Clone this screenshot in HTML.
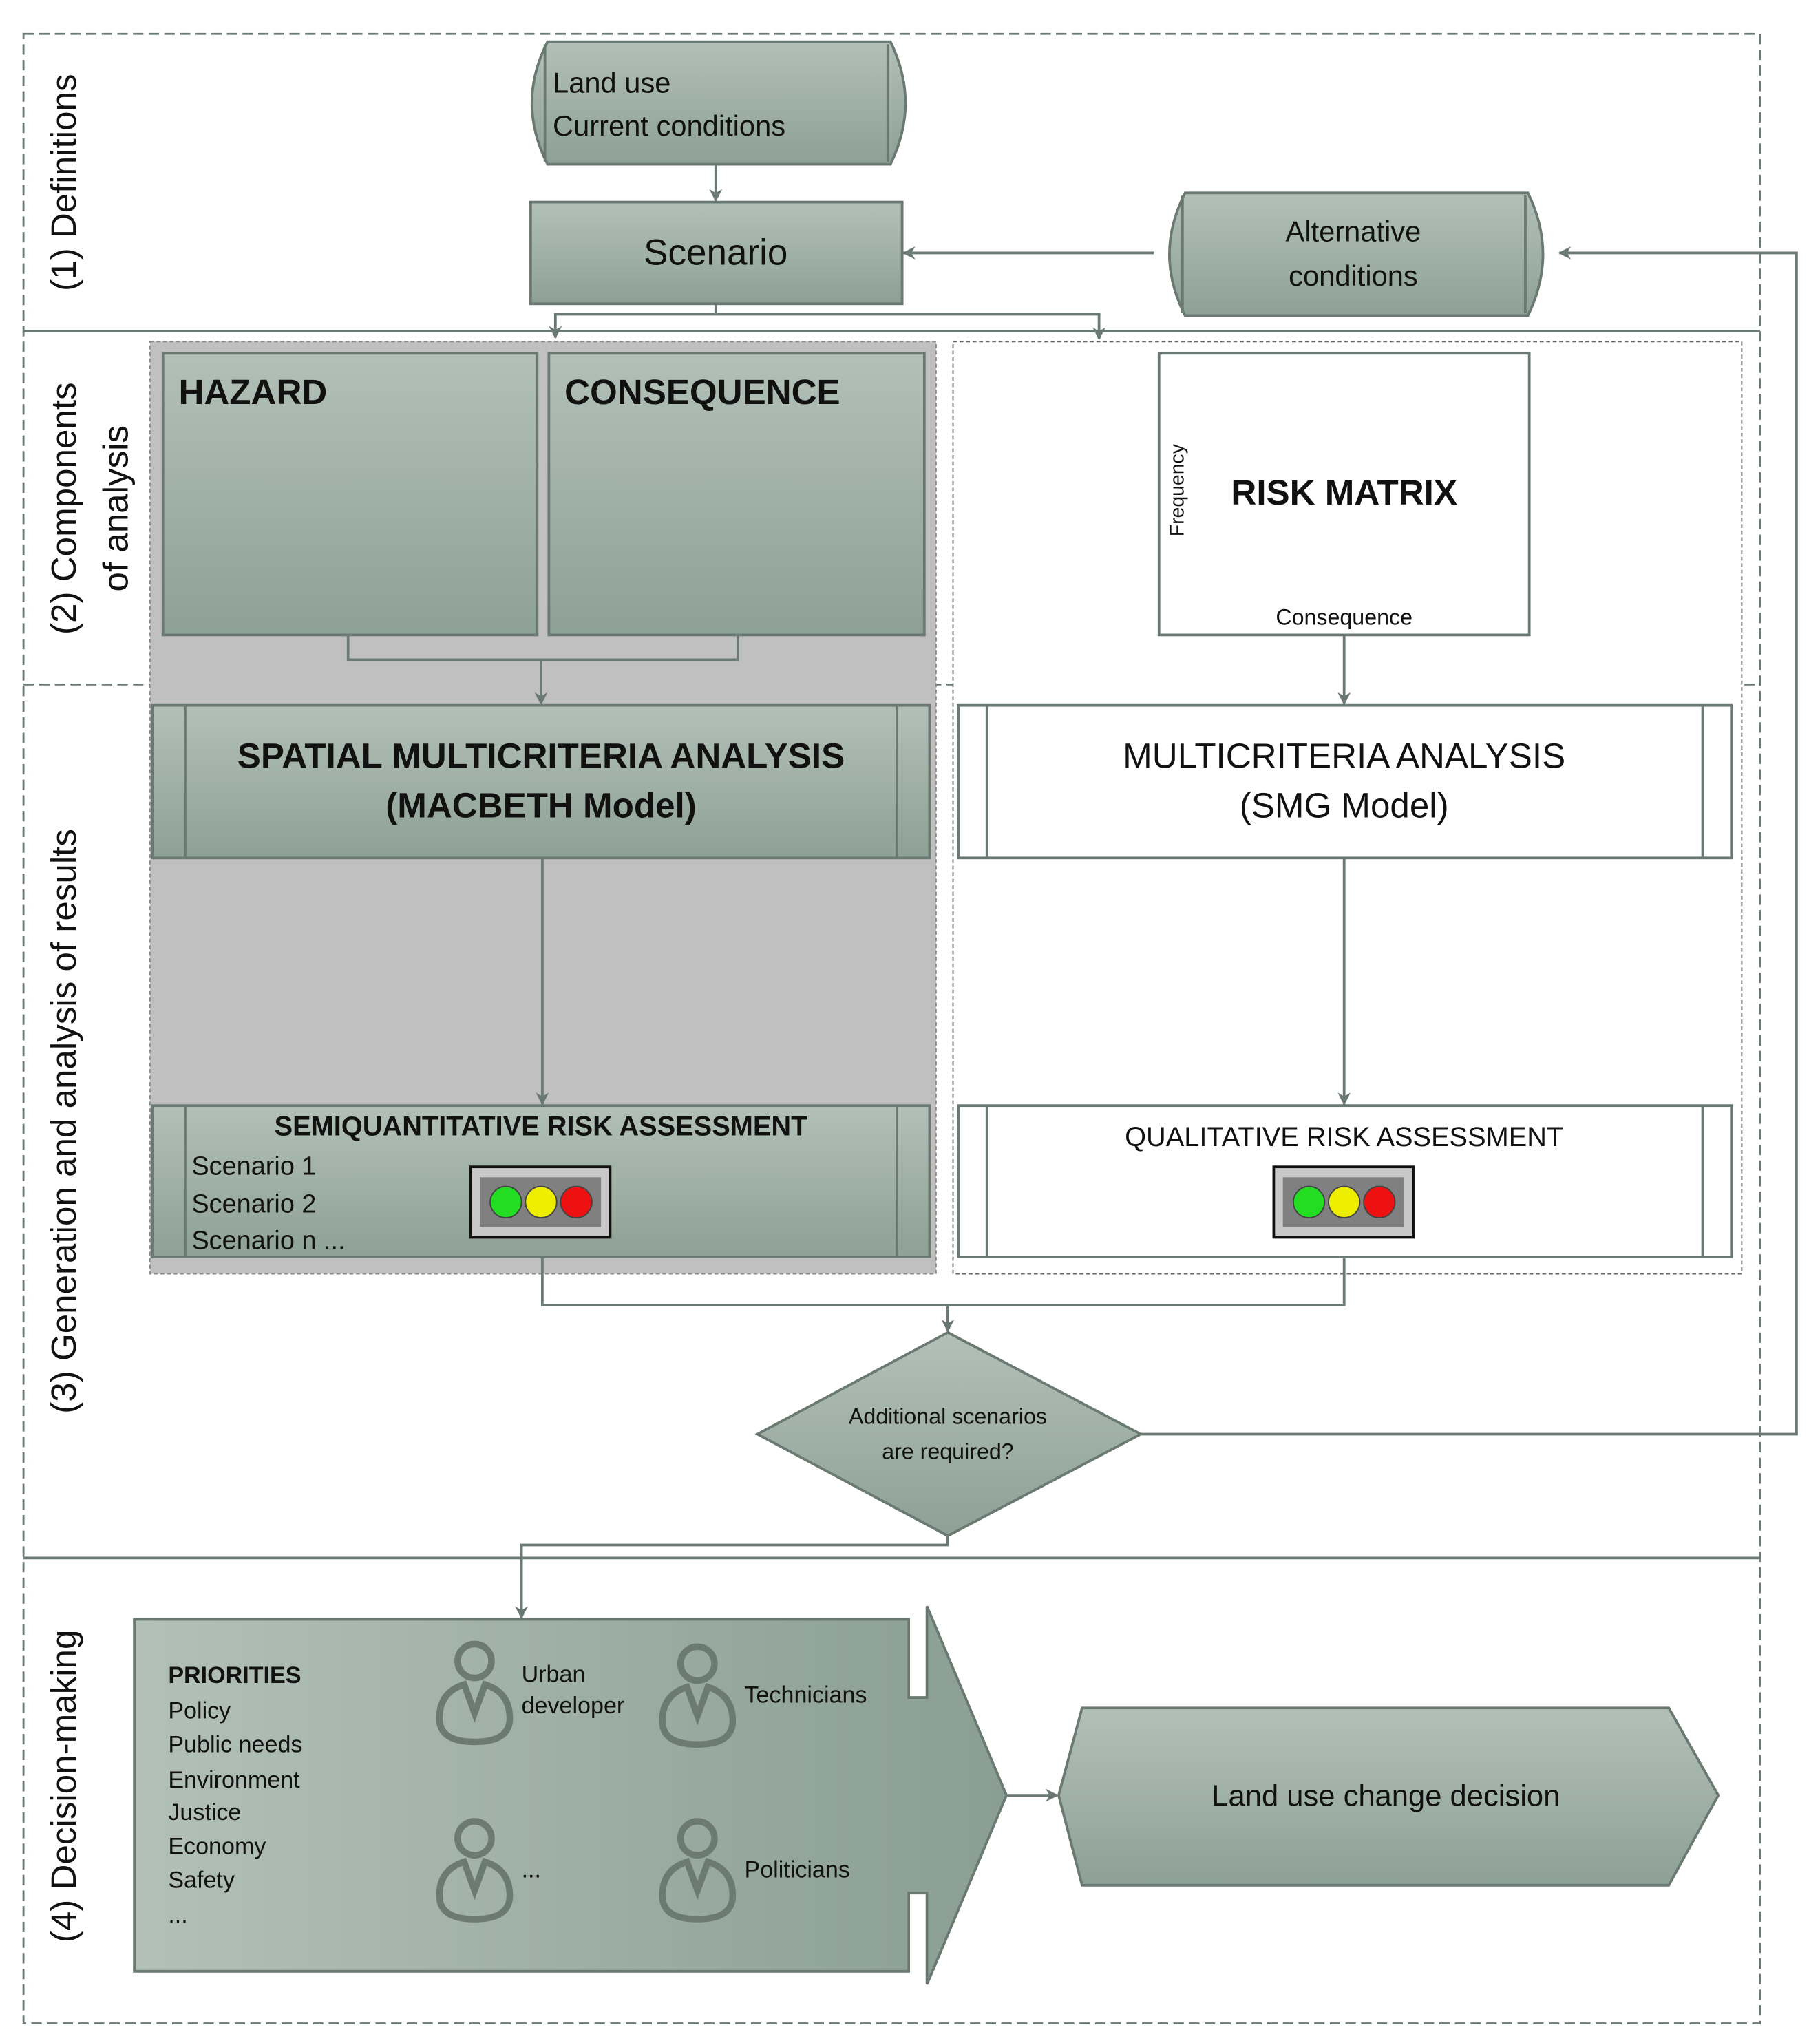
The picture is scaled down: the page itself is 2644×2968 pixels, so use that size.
<!DOCTYPE html>
<html><head><meta charset="utf-8"><style>html,body{margin:0;padding:0;background:#fff}svg{display:block}</style></head><body>
<svg width="2644" height="2968" viewBox="0 0 1396 1567" preserveAspectRatio="none" xmlns="http://www.w3.org/2000/svg" font-family="'Liberation Sans Narrow','Liberation Sans',sans-serif">
<defs>
<linearGradient id="g" x1="0" y1="0" x2="0" y2="1"><stop offset="0" stop-color="#b2c0b8"/><stop offset="1" stop-color="#8ea196"/></linearGradient>
<linearGradient id="gh" x1="0" y1="0" x2="1" y2="0"><stop offset="0" stop-color="#b2c0b8"/><stop offset="1" stop-color="#8a9e93"/></linearGradient>
<marker id="a" markerWidth="10" markerHeight="10" refX="9" refY="5" orient="auto" markerUnits="userSpaceOnUse"><path d="M0,0 L10,5 L0,10 L3,5 z" fill="#6a7a72"/></marker>
<g id="tl"><rect x="0" y="0" width="107" height="54" fill="#c8c8c8" stroke="#111" stroke-width="2"/><rect x="7" y="8" width="93" height="38" fill="#808080"/><circle cx="27" cy="27" r="12" fill="#22dd22" stroke="#444"/><circle cx="54" cy="27" r="12" fill="#eeee00" stroke="#444"/><circle cx="81" cy="27" r="12" fill="#ee1111" stroke="#444"/></g>
<g id="p" fill="none" stroke="#6b7b73" stroke-width="5"><circle cx="0" cy="-22" r="13"/><path d="M-8,-4 Q-27,2 -27,22 Q-27,40 0,40 Q27,40 27,22 Q27,2 8,-4 L0,18 Z"/></g>
</defs>
<g fill="none" stroke="#6a7a72" stroke-width="1.5">
<rect x="18" y="26" width="1332" height="1526" stroke-dasharray="8,4"/>
<line x1="18" y1="254" x2="1350" y2="254" stroke-width="2"/>
<line x1="18" y1="525" x2="1350" y2="525" stroke-dasharray="8,4"/>
<line x1="18" y1="1195" x2="1350" y2="1195" stroke-width="2"/>
</g>
<g font-family="'Liberation Sans',sans-serif" font-size="27" fill="#111">
<text transform="translate(58,140) rotate(-90)" text-anchor="middle">(1) Definitions</text>
<text transform="translate(58,390) rotate(-90)" text-anchor="middle">(2) Components</text>
<text transform="translate(98,390) rotate(-90)" text-anchor="middle">of analysis</text>
<text transform="translate(58,860) rotate(-90)" text-anchor="middle">(3) Generation and analysis of results</text>
<text transform="translate(58,1370) rotate(-90)" text-anchor="middle">(4) Decision-making</text>
</g>
<rect x="115" y="262" width="603" height="715" fill="#c0c0c0" stroke="#888" stroke-dasharray="3,2"/>
<rect x="731" y="262" width="605" height="715" fill="#fff" stroke="#666" stroke-dasharray="3,2"/>
<g stroke="#6a7a72" stroke-width="2">
<path d="M420,32 H683 Q706,79 683,126 H420 Q396,79 420,32 Z" fill="url(#g)"/><line x1="418" y1="34" x2="418" y2="124"/><line x1="681" y1="34" x2="681" y2="124"/>
<rect x="407" y="155" width="285" height="78" fill="url(#g)"/>
<path d="M909,148 H1172 Q1195,195 1172,242 H909 Q885,195 909,148 Z" fill="url(#g)"/><line x1="907" y1="150" x2="907" y2="240"/><line x1="1170" y1="150" x2="1170" y2="240"/>
<rect x="125" y="271" width="287" height="216" fill="url(#g)"/>
<rect x="421" y="271" width="288" height="216" fill="url(#g)"/>
<rect x="889" y="271" width="284" height="216" fill="#fff"/>
<rect x="117" y="541" width="596" height="117" fill="url(#g)"/><line x1="142" y1="541" x2="142" y2="658"/><line x1="688" y1="541" x2="688" y2="658"/>
<rect x="735" y="541" width="593" height="117" fill="#fff"/><line x1="757" y1="541" x2="757" y2="658"/><line x1="1306" y1="541" x2="1306" y2="658"/>
<rect x="117" y="848" width="596" height="116" fill="url(#g)"/><line x1="142" y1="848" x2="142" y2="964"/><line x1="688" y1="848" x2="688" y2="964"/>
<rect x="735" y="848" width="593" height="116" fill="#fff"/><line x1="757" y1="848" x2="757" y2="964"/><line x1="1306" y1="848" x2="1306" y2="964"/>
<polygon points="727,1022 875,1100 727,1178 581,1100" fill="url(#g)"/>
<polygon points="103,1242 697,1242 697,1302 711,1302 711,1232 772,1377 711,1522 711,1452 697,1452 697,1512 103,1512" fill="url(#gh)"/>
<polygon points="812,1377 830,1310 1280,1310 1318,1377 1280,1446 830,1446" fill="url(#g)"/>
</g>
<g fill="none" stroke="#6a7a72" stroke-width="2">
<line x1="549" y1="126" x2="549" y2="154" marker-end="url(#a)"/>
<line x1="885" y1="194" x2="693" y2="194" marker-end="url(#a)"/>
<polyline points="875,1100 1378,1100 1378,194 1196,194" marker-end="url(#a)"/>
<polyline points="549,233 549,241 426,241 426,259" marker-end="url(#a)"/>
<polyline points="549,241 843,241 843,260" marker-end="url(#a)"/>
<polyline points="267,487 267,506 566,506 566,487"/>
<line x1="415" y1="506" x2="415" y2="540" marker-end="url(#a)"/>
<line x1="1031" y1="487" x2="1031" y2="540" marker-end="url(#a)"/>
<line x1="416" y1="658" x2="416" y2="847" marker-end="url(#a)"/>
<line x1="1031" y1="658" x2="1031" y2="847" marker-end="url(#a)"/>
<polyline points="416,964 416,1001 1031,1001 1031,964"/>
<line x1="727" y1="1001" x2="727" y2="1021" marker-end="url(#a)"/>
<polyline points="727,1178 727,1185 400,1185 400,1241" marker-end="url(#a)"/>
<line x1="772" y1="1377" x2="811" y2="1377" marker-end="url(#a)"/>
</g>
<use href="#tl" x="361" y="895"/><use href="#tl" x="977" y="895"/>
<use href="#p" x="364" y="1296"/><use href="#p" x="535" y="1298"/><use href="#p" x="364" y="1432"/><use href="#p" x="535" y="1432"/>
<g fill="#111">
<text x="424" y="71" font-size="22">Land use</text>
<text x="424" y="104" font-size="22">Current conditions</text>
<text x="549" y="203" font-size="28" text-anchor="middle">Scenario</text>
<text x="1038" y="185" font-size="22" text-anchor="middle">Alternative</text>
<text x="1038" y="219" font-size="22" text-anchor="middle">conditions</text>
<text x="137" y="310" font-size="27" font-weight="bold">HAZARD</text>
<text x="433" y="310" font-size="27" font-weight="bold">CONSEQUENCE</text>
<text x="1031" y="387" font-size="27" font-weight="bold" text-anchor="middle">RISK MATRIX</text>
<text transform="translate(908,376) rotate(-90)" font-size="15" text-anchor="middle" font-family="'Liberation Sans',sans-serif">Frequency</text>
<text x="1031" y="479" font-size="17" text-anchor="middle">Consequence</text>
<text x="415" y="589" font-size="27" font-weight="bold" text-anchor="middle">SPATIAL MULTICRITERIA ANALYSIS</text>
<text x="415" y="627" font-size="27" font-weight="bold" text-anchor="middle">(MACBETH Model)</text>
<text x="1031" y="589" font-size="27" text-anchor="middle">MULTICRITERIA ANALYSIS</text>
<text x="1031" y="627" font-size="27" text-anchor="middle">(SMG Model)</text>
<text x="415" y="871" font-size="21" font-weight="bold" text-anchor="middle">SEMIQUANTITATIVE RISK ASSESSMENT</text>
<text x="147" y="901" font-size="20">Scenario 1</text>
<text x="147" y="930" font-size="20">Scenario 2</text>
<text x="147" y="958" font-size="20">Scenario n ...</text>
<text x="1031" y="879" font-size="21" text-anchor="middle">QUALITATIVE RISK ASSESSMENT</text>
<text x="727" y="1092" font-size="17" text-anchor="middle">Additional scenarios</text>
<text x="727" y="1119" font-size="17" text-anchor="middle">are required?</text>
<g font-size="18"><text x="129" y="1291" font-weight="bold">PRIORITIES</text><text x="129" y="1318">Policy</text><text x="129" y="1344">Public needs</text><text x="129" y="1371">Environment</text><text x="129" y="1396">Justice</text><text x="129" y="1422">Economy</text><text x="129" y="1448">Safety</text><text x="129" y="1475">...</text>
<text x="400" y="1290">Urban</text><text x="400" y="1314">developer</text><text x="571" y="1306">Technicians</text><text x="400" y="1440">...</text><text x="571" y="1440">Politicians</text></g>
<text x="1063" y="1385" font-size="23" text-anchor="middle">Land use change decision</text>
</g>
</svg>
</body></html>
